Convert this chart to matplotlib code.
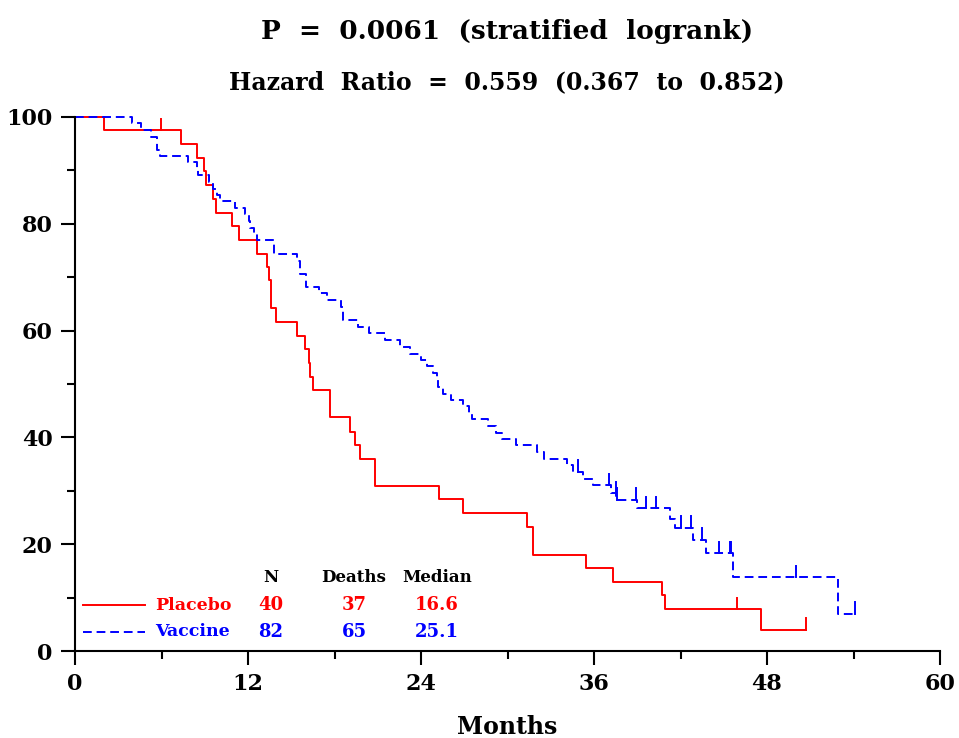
import numpy as np
import matplotlib
matplotlib.use("Agg")
import matplotlib.pyplot as plt

plt.rcParams['font.family'] = ['DejaVu Serif']
plt.rcParams['font.weight'] = 'bold'

# Kaplan-Meier steps: time (months) -> survival (%) after the step
placebo_t = [0, 2.0, 7.33, 8.47, 8.95, 9.1, 9.6, 9.76, 10.92, 11.35, 12.65, 13.35,
             13.45, 13.6, 13.62, 13.95, 15.37, 15.93, 16.25, 16.3, 16.53, 17.68, 17.72,
             19.1, 19.4, 19.76, 20.8, 20.82, 25.24, 26.93, 31.37, 31.75, 31.8, 35.42,
             37.3, 40.7, 40.9, 47.55, 50.7]
placebo_s = [100, 97.5, 94.9, 92.4, 89.9, 87.3, 84.7, 82.1, 79.6, 77.0, 74.4, 71.9,
             69.4, 66.9, 64.3, 61.7, 59.0, 56.5, 53.9, 51.4, 48.9, 46.3, 43.8,
             41.1, 38.6, 36.0, 33.4, 30.9, 28.4, 25.8, 23.3, 20.7, 18.0, 15.5,
             13.0, 10.5, 7.8, 3.9, 3.9]
placebo_cens = [5.94, 45.9, 50.7]

vaccine_t = [0, 3.93, 4.55, 5.25, 5.66, 5.7, 5.87, 7.86, 8.44, 8.55, 9.3, 9.6, 9.82,
             10.06, 11.1, 11.8, 12.07, 12.12, 12.4, 12.65, 13.8, 13.82, 15.37, 15.6,
             15.62, 16.0, 16.02, 16.9, 17.45, 18.42, 18.6, 18.62, 19.65, 20.4, 21.5,
             22.54, 23.23, 24.0, 24.4, 24.8, 25.08, 25.2, 25.54, 26.1, 26.9, 27.3,
             27.57, 28.66, 29.22, 29.6, 30.6, 32.06, 32.5, 34.15, 34.56, 35.25, 35.95,
             37.2, 37.55, 38.95, 41.26, 41.6, 42.9, 43.8, 45.65, 52.9, 54.1]
vaccine_s = [100, 98.9, 97.6, 96.3, 95.1, 93.9, 92.7, 91.6, 90.5, 89.1, 87.8, 86.6, 85.4,
             84.2, 83.0, 81.8, 80.5, 79.3, 78.1, 76.9, 75.6, 74.3, 73.0, 71.8,
             70.6, 69.4, 68.2, 67.0, 65.7, 64.4, 63.2, 62.0, 60.7, 59.5, 58.2,
             57.0, 55.7, 54.5, 53.3, 52.0, 50.7, 49.5, 48.2, 47.0, 45.9, 44.6,
             43.4, 42.2, 40.9, 39.7, 38.5, 37.2, 36.0, 34.8, 33.6, 32.3, 31.0,
             29.5, 28.3, 26.7, 24.8, 23.1, 20.8, 18.3, 13.8, 6.9, 6.9]
vaccine_cens = [34.9, 37.06, 37.5, 37.6, 38.9, 39.6, 40.3, 42.06, 42.7, 43.5, 44.7,
                45.4, 45.5, 50.0, 54.1]

groups = ['Placebo', 'Vaccine']
n_pat = ['40', '82']
deaths = ['37', '65']
medians = ['16.6', '25.1']
colors = ['#ff0000', '#0000ff']
styles = ['-', (0, (4.5, 2.5))]

fig = plt.figure(figsize=(9.59, 7.38), dpi=100)
ax = fig.add_axes([75/959, 1-651/738, 865/959, 534/738])

curves = [(placebo_t, placebo_s, placebo_cens), (vaccine_t, vaccine_s, vaccine_cens)]
for (t, s, cens), col, ls in zip(curves, colors, styles):
    ax.step(t, s, where='post', color=col, lw=1.4, ls=ls, clip_on=False)
    t_arr = np.array(t)
    for c in cens:
        lvl = s[np.searchsorted(t_arr, c, side='right') - 1]
        ax.plot([c, c], [lvl, lvl + 2.2], color=col, lw=1.4, clip_on=False)

ax.set_xlim(0, 60)
ax.set_ylim(0, 100)
ax.set_xticks([0, 12, 24, 36, 48, 60])
ax.set_xticks([6, 18, 30, 42, 54], minor=True)
ax.set_yticks([0, 20, 40, 60, 80, 100])
ax.set_yticks([10, 30, 50, 70, 90], minor=True)
for sp in ['top', 'right']:
    ax.spines[sp].set_visible(False)
for sp in ['left', 'bottom']:
    ax.spines[sp].set_linewidth(1.5)
ax.tick_params(which='major', length=10, width=1.5, labelsize=16, pad=6)
ax.tick_params(which='minor', length=6, width=1.5)
ax.set_xlabel('Months', fontsize=17, fontweight='bold', labelpad=14)

fig.text(507/959, 1-32/738, 'P  =  0.0061  (stratified  logrank)', ha='center', va='center',
         fontsize=19, fontweight='bold')
fig.text(507/959, 1-82/738, 'Hazard  Ratio  =  0.559  (0.367  to  0.852)', ha='center',
         va='center', fontsize=17, fontweight='bold')

# legend table
col_x = [13.6, 19.35, 25.1]
for x, h in zip(col_x, ['N', 'Deaths', 'Median']):
    ax.text(x, 13.7, h, ha='center', va='center', fontsize=12, fontweight='bold')
row_y = [8.6, 3.6]
for i, y in enumerate(row_y):
    ax.plot([0.55, 4.85], [y, y], color=colors[i], lw=1.4, ls=styles[i])
    ax.text(5.55, y, groups[i], ha='left', va='center', fontsize=12.5, color=colors[i],
            fontweight='bold')
    for x, v in zip(col_x, [n_pat[i], deaths[i], medians[i]]):
        ax.text(x, y, v, ha='center', va='center', fontsize=13, color=colors[i],
                fontweight='bold')

fig.savefig('out.png', dpi=100)
